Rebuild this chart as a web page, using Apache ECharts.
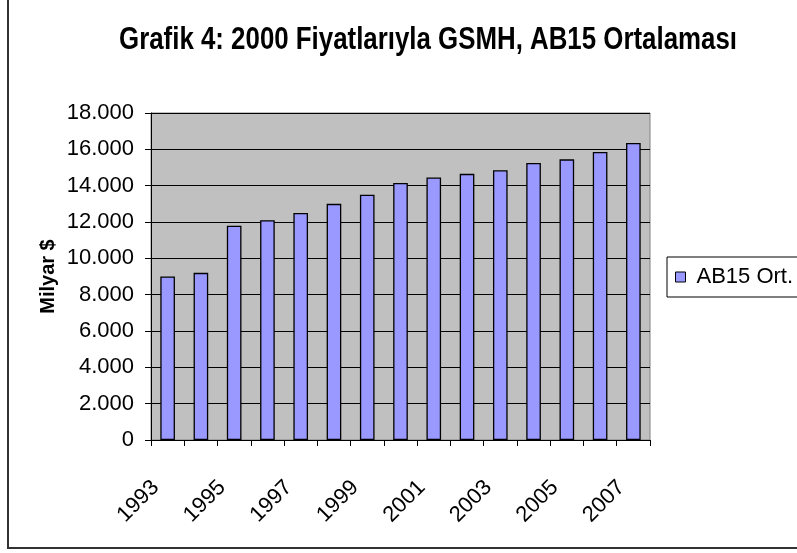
<!DOCTYPE html>
<html>
<head>
<meta charset="utf-8">
<script src="https://cdn.jsdelivr.net/npm/echarts@6/dist/echarts.min.js"></script>
<style>
html,body{margin:0;padding:0;background:#fff;}
#chart{width:797px;height:553px;}
</style>
</head>
<body>
<div id="chart"></div>
<script>
var years = ['1993','1994','1995','1996','1997','1998','1999','2000','2001','2002','2003','2004','2005','2006','2007'];
var ab15 = [9000, 9200, 11800, 12100, 12500, 13000, 13500, 14150, 14450, 14650, 14850, 15250, 15450, 15850, 16350];
var titleText = 'Grafik 4: 2000 Fiyatlarıyla GSMH, AB15 Ortalaması';
var seriesName = 'AB15 Ort.';
var yName = 'Milyar $';

var chart = echarts.init(document.getElementById('chart'), null, {renderer: 'canvas'});
function fmt(v){
  return String(v).replace(/\B(?=(\d{3})+(?!\d))/g, '.');
}
chart.setOption({
  animation: false,
  backgroundColor: '#ffffff',
  graphic: [{
    type: 'rect',
    shape: {x: 8, y: -10, width: 820, height: 558},
    style: {fill: 'none', stroke: '#333', lineWidth: 2},
    silent: true
  }, {
    type: 'text',
    x: 428,
    y: 40,
    scaleX: 0.834,
    style: {
      text: titleText,
      x: 0, y: 0,
      align: 'center',
      verticalAlign: 'middle',
      font: 'bold 31px "Liberation Sans", Arial, sans-serif',
      fill: '#000'
    },
    silent: true
  }],
  legend: {
    data: [seriesName],
    left: 667,
    top: 257,
    orient: 'vertical',
    padding: [9, 12, 9, 8],
    borderColor: '#000',
    borderWidth: 1,
    itemWidth: 10,
    itemHeight: 10,
    icon: 'rect',
    itemStyle: {borderColor: '#000', borderWidth: 1},
    textStyle: {fontFamily: 'Liberation Sans', fontSize: 22, color: '#000', padding: [0, 0, 0, 6]}
  },
  grid: {
    left: 151, right: 147, top: 113, bottom: 113,
    show: true,
    backgroundColor: '#C0C0C0',
    borderColor: '#808080',
    borderWidth: 1
  },
  xAxis: {
    type: 'category',
    data: years,
    boundaryGap: true,
    axisLine: {lineStyle: {color: '#000', width: 1}},
    axisTick: {show: true, interval: 0, length: 6, lineStyle: {color: '#000'}},
    axisLabel: {
      interval: 1,
      rotate: 45,
      margin: 32,
      padding: [0, 17, 0, 0],
      fontFamily: 'Liberation Sans',
      fontSize: 22,
      color: '#000'
    },
    splitLine: {show: false}
  },
  yAxis: {
    type: 'value',
    min: 0,
    max: 18000,
    interval: 2000,
    name: yName,
    nameLocation: 'middle',
    nameRotate: 90,
    nameGap: 93,
    nameMoveOverlap: false,
    nameTextStyle: {fontFamily: 'Liberation Sans', fontWeight: 'bold', fontSize: 20, color: '#000'},
    axisLine: {show: true, lineStyle: {color: '#000', width: 1}},
    axisTick: {show: true, length: 6, lineStyle: {color: '#000'}},
    axisLabel: {
      margin: 17,
      fontFamily: 'Liberation Sans',
      fontSize: 22,
      color: '#000',
      formatter: fmt
    },
    splitLine: {show: true, lineStyle: {color: '#000', width: 1}}
  },
  series: [{
    name: seriesName,
    type: 'bar',
    data: ab15,
    barWidth: '44%',
    itemStyle: {color: '#9999FF', borderColor: '#000', borderWidth: 1.3}
  }]
});
</script>
</body>
</html>
